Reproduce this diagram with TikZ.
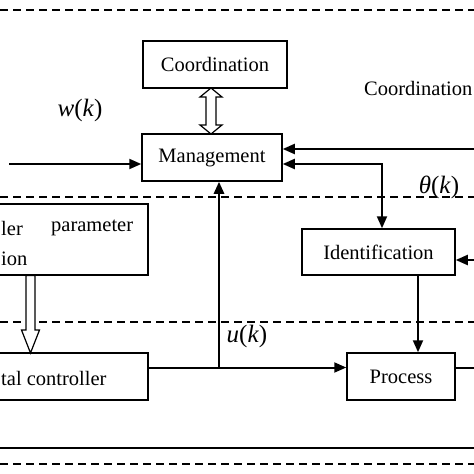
\documentclass[tikz,border=0pt]{standalone}
\usepackage{fontspec}
\setmainfont{Liberation Serif}
\usetikzlibrary{arrows.meta,calc}
\begin{document}
\begin{tikzpicture}[x=1pt,y=-1pt,
  blk/.style={draw,line width=1.5pt,inner sep=0pt,font=\fontsize{20.5}{22}\selectfont},
  lbl/.style={inner sep=0pt,font=\fontsize{20.5}{22}\selectfont},
  mlbl/.style={inner sep=0pt,font=\fontsize{25}{27}\selectfont},
  conn/.style={line width=2pt,-{Triangle[length=12pt,width=10pt]}},
  plain/.style={line width=2pt},
  sep/.style={line width=1.3pt,dash pattern=on 8pt off 5pt},
  hollow/.style={draw,line width=1.2pt,fill=white}]
\useasboundingbox (0,0) rectangle (474,474);
\clip (0,0) rectangle (474,474);
\fill[white] (0,0) rectangle (474,474);
% level separators
\draw[sep] (0,10) -- (474,10);
\draw[sep] (0,197) -- (474,197);
\draw[sep] (0,322) -- (474,322);
\draw[sep] (0,464) -- (474,464);
\draw[line width=2pt] (0,448) -- (474,448);
% blocks
\node[blk,minimum width=144pt,minimum height=47pt] (coord) at (215,64.5) {Coordination};
\node[blk,minimum width=140pt,minimum height=47pt] (mgmt) at (212,157.5) {Management};
\node[blk,minimum width=153pt,minimum height=46pt] (ident) at (378.5,252) {Identification};
\node[blk,minimum width=108pt,minimum height=47pt] (proc) at (401,376.5) {Process};
\node[blk,minimum width=170pt,minimum height=71pt] (param) at (63,239.5) {};
\node[blk,minimum width=170pt,minimum height=47pt] (dctrl) at (63,376.5) {};
% texts
\node[lbl,anchor=west] (t1) at (1,228) {ler};
\node[lbl,anchor=west] (t2) at (51,228) {parameter};
\node[lbl,anchor=west] (t3) at (1,259) {ion};
\node[lbl,anchor=west] (t4) at (1,378) {tal controller};
\node[lbl,anchor=west] (t5) at (364,88) {Coordination};
\node[mlbl] (wk) at (80,110) {\textit{w}(\textit{k})};
\node[mlbl] (thk) at (439,187) {\textit{θ}(\textit{k})};
\node[mlbl] (uk) at (247,336) {\textit{u}(\textit{k})};
% coordinates
\coordinate (inl) at (9,164);
\coordinate (rmg) at (474,149);
\coordinate (rid) at (474,260);
\coordinate (rpr) at (474,368);
\coordinate (uj) at (219,367.5);
\coordinate (ij) at (382,164);
% connectors
\draw[conn] (inl) -- (inl -| mgmt.west);
\draw[conn] (rmg) -- (rmg -| mgmt.east);
\draw[conn] (rid) -- (rid -| ident.east);
\draw[plain] (proc.east |- rpr) -- (rpr);
\draw[conn,{Triangle[length=12pt,width=10pt]}-{Triangle[length=12pt,width=10pt]}] (ij -| mgmt.east) -- (ij) -- (ij |- ident.north);
\draw[conn] (ident.south -| 418,0) -- (proc.north -| 418,0);
\draw[conn] (dctrl.east |- uj) -- (uj -| proc.west);
\draw[line width=2.6pt,-{Triangle[length=12pt,width=10pt]}] (uj) -- (uj |- mgmt.south);
% hollow arrows
\draw[hollow,line join=miter] (211,88) -- (222,97) -- (216,97) -- (216,125) -- (222,125) -- (211,134) -- (200,125) -- (206,125) -- (206,97) -- (200,97) -- cycle;
\draw[hollow,line join=miter] (26,275.5) -- (35,275.5) -- (35,330) -- (39.5,330) -- (30.5,353) -- (21.5,330) -- (26,330) -- cycle;
\end{tikzpicture}
\end{document}
